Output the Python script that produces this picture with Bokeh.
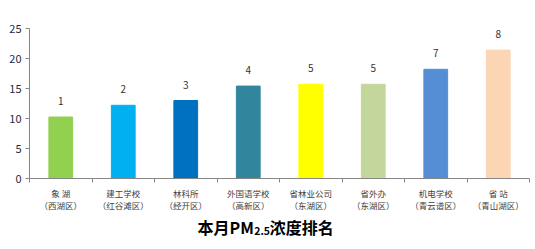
from bokeh.plotting import figure
from bokeh.models import Range1d, FixedTicker, ColumnDataSource
from bokeh.layouts import column
from bokeh.embed import file_html
from bokeh.resources import INLINE
from bokeh.core.properties import value

stations = ["象 湖", "建工学校", "林科所", "外国语学校", "省林业公司", "省外办", "机电学校", "省 站"]
districts = ["（西湖区）", "（红谷滩区）", "（经开区）", "（高新区）", "（东湖区）", "（东湖区）", "（青云谱区）", "（青山湖区）"]
pm25 = [10.25, 12.2, 13.0, 15.4, 15.7, 15.7, 18.2, 21.4]
ranks = ["1", "2", "3", "4", "5", "5", "7", "8"]
colors = ["#92D050", "#00B0F0", "#0070C0", "#31859C", "#FFFF00", "#C3D69B", "#558ED5", "#FCD5B5"]
y_ticks = [0, 5, 10, 15, 20, 25]
title_main, title_sub, title_rest = "本月PM", "2.5", "浓度排名"

FONT = "Noto Sans CJK SC"
n = len(stations)
xs = [i + 0.5 for i in range(n)]

src = ColumnDataSource(dict(x=xs, top=pm25, color=colors, rank=ranks))

p = figure(width=535, height=214, output_backend="svg", toolbar_location=None,
           x_range=Range1d(0, n), y_range=Range1d(0, 25),
           min_border_left=29, min_border_right=6, min_border_top=28, min_border_bottom=36)
p.outline_line_color = None
p.xgrid.visible = False
p.ygrid.visible = False
p.background_fill_color = "white"
p.border_fill_color = "white"

p.vbar(x="x", top="top", width=0.38, bottom=0, color="color", source=src)
p.text(x="x", y="top", text="rank", source=src, text_align="center", text_baseline="middle",
       y_offset=-16, text_font=value(FONT), text_font_size="10px", text_color="#333333")

p.yaxis.ticker = FixedTicker(ticks=y_ticks)
p.yaxis.axis_line_color = "#868686"
p.yaxis.major_tick_line_color = "#868686"
p.yaxis.major_tick_out = 4
p.yaxis.major_tick_in = 0
p.yaxis.minor_tick_line_color = None
p.yaxis.major_label_text_font = FONT
p.yaxis.major_label_text_font_size = "11px"
p.yaxis.major_label_text_color = "#1F2A44"
p.yaxis.major_label_standoff = 4

p.xaxis.ticker = FixedTicker(ticks=xs, minor_ticks=list(range(n + 1)))
p.xaxis.major_label_overrides = {x: f"{s}\n{d}" for x, s, d in zip(xs, stations, districts)}
p.xaxis.axis_line_color = "#868686"
p.xaxis.major_tick_line_color = None
p.xaxis.minor_tick_line_color = "#868686"
p.xaxis.minor_tick_out = 4
p.xaxis.minor_tick_in = 0
p.xaxis.major_label_text_font = FONT
p.xaxis.major_label_text_font_size = "8.5px"
p.xaxis.major_label_text_line_height = 1.0
p.xaxis.major_label_text_color = "#404040"
p.xaxis.major_label_standoff = 2

# title strip (subscripted "2.5")
t = figure(width=535, height=35, output_backend="svg", toolbar_location=None,
           x_range=Range1d(0, 535), y_range=Range1d(0, 35),
           min_border=0, min_border_left=0, min_border_right=0, min_border_top=0, min_border_bottom=0)
t.axis.visible = False
t.grid.visible = False
t.outline_line_color = None
t.border_fill_color = "white"
common = dict(text_font=value(FONT), text_font_style="bold", text_color="#000000", text_baseline="alphabetic")
t.text(x=[240], y=[23], text=[title_main], text_align="right", text_font_size="16px", **common)
t.text(x=[240.5], y=[19], text=[title_sub], text_align="left", text_font_size="10.5px", **common)
t.text(x=[257], y=[23], text=[title_rest], text_align="left", text_font_size="16px", **common)

layout = column(p, t, spacing=0)
open("out.html", "w").write(file_html(layout, INLINE))
